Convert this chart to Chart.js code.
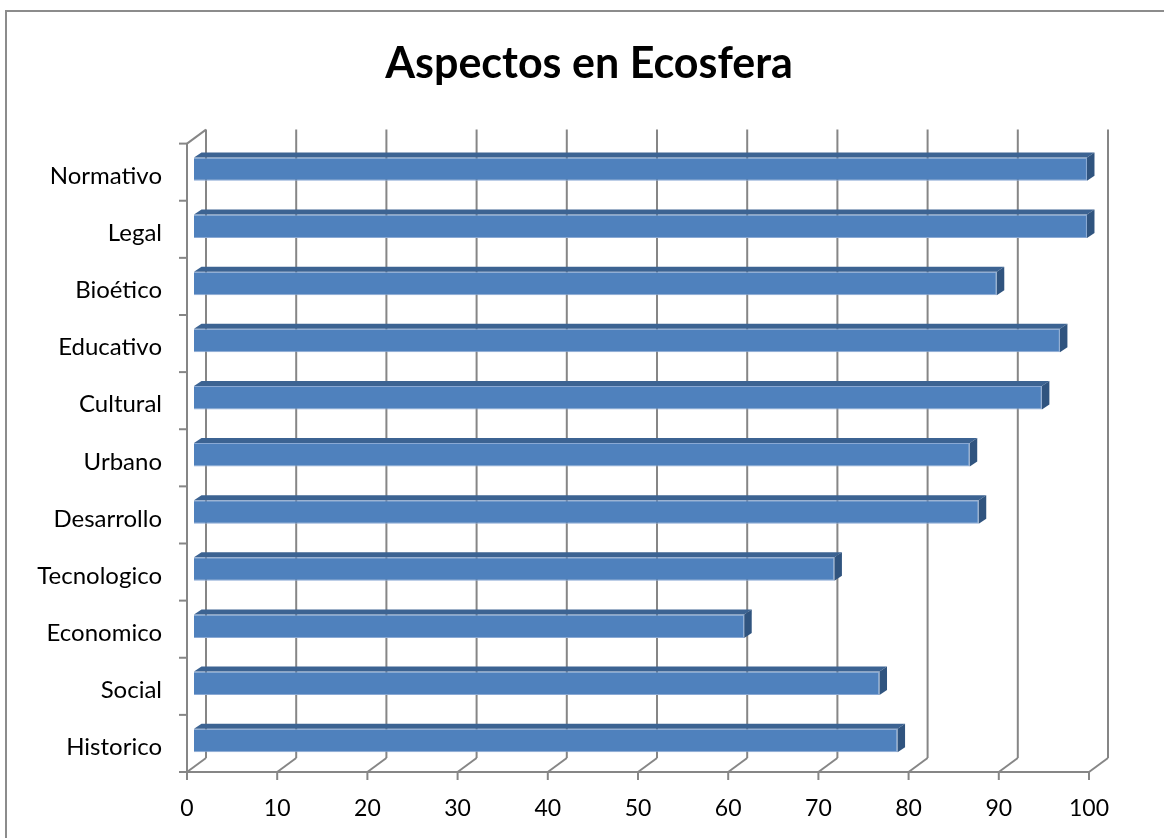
<!DOCTYPE html>
<html>
<head>
<meta charset="utf-8">
<script src="https://cdn.jsdelivr.net/npm/chart.js@4.4.0/dist/chart.umd.min.js"></script>
<style>
    html, body { margin: 0; padding: 0; background: #fff; overflow: hidden; }
    #frame {
        position: absolute; left: 5px; top: 10px; width: 2000px; height: 2000px;
        border-left: 2px solid #8c8c8c; border-top: 2px solid #8c8c8c;
    }
    #chart { position: absolute; left: 0; top: 0; }
</style>
</head>
<body>
<div id="frame"></div>
<canvas id="chart" width="1164" height="838"></canvas>
<script>
// Data (top to bottom)
const categories = ['Normativo', 'Legal', 'Bioético', 'Educativo', 'Cultural', 'Urbano',
    'Desarrollo', 'Tecnologico', 'Economico', 'Social', 'Historico'];
const values = [99, 99, 89, 96, 94, 86, 87, 71, 61, 76, 78];
const xTicks = [0, 10, 20, 30, 40, 50, 60, 70, 80, 90, 100];

const FONT = 'Lato, "Open Sans", sans-serif';
const GRID = '#868686';

// depth offsets relative to the plane the bars sit in
const front = { x: -7, y: 3 };
const back = { x: 12, y: -11 };
const barDepth = { x: 7.5, y: -5 };

function line(ctx, x1, y1, x2, y2) {
    ctx.beginPath();
    ctx.moveTo(x1, y1);
    ctx.lineTo(x2, y2);
    ctx.stroke();
}

// draws the 3D walls, floor and the extra bar faces
const box3d = {
    id: 'box3d',
    beforeDatasetsDraw(chart) {
        const { ctx, chartArea: a, scales } = chart;
        const xs = scales.x;
        ctx.save();
        ctx.strokeStyle = GRID;
        ctx.lineWidth = 2;
        ctx.lineCap = 'butt';

        xTicks.forEach(v => {
            const px = xs.getPixelForValue(v);
            // back wall grid line
            line(ctx, px + back.x, a.top + back.y, px + back.x, a.bottom + back.y);
            // floor diagonal
            line(ctx, px + front.x, a.bottom + front.y, px + back.x, a.bottom + back.y);
            // tick mark on the front edge
            line(ctx, px + front.x, a.bottom + front.y, px + front.x, a.bottom + front.y + 8);
        });

        const x0 = xs.getPixelForValue(0);
        const x100 = xs.getPixelForValue(100);
        // front floor edge
        line(ctx, x0 + front.x - 1, a.bottom + front.y, x100 + front.x, a.bottom + front.y);
        // left wall front edge and top
        line(ctx, x0 + front.x, a.top + front.y, x0 + front.x, a.bottom + front.y);
        line(ctx, x0 + front.x, a.top + front.y, x0 + back.x, a.top + back.y);

        // category tick marks on the left edge
        const step = (a.bottom - a.top) / categories.length;
        for (let i = 0; i <= categories.length; i++) {
            const py = a.top + i * step + front.y;
            line(ctx, x0 + front.x - 8, py, x0 + front.x, py);
        }
        ctx.restore();
    },
    afterDatasetsDraw(chart) {
        const { ctx } = chart;
        const meta = chart.getDatasetMeta(0);
        ctx.save();
        meta.data.forEach(bar => {
            const { x, y, base, height } = bar.getProps(['x', 'y', 'base', 'height'], true);
            const top = y - height / 2;
            const bottom = y + height / 2;
            // top face
            ctx.fillStyle = '#3c6392';
            ctx.beginPath();
            ctx.moveTo(base, top);
            ctx.lineTo(x, top);
            ctx.lineTo(x + barDepth.x, top + barDepth.y);
            ctx.lineTo(base + barDepth.x, top + barDepth.y);
            ctx.closePath();
            ctx.fill();
            // side face
            ctx.fillStyle = '#30547f';
            ctx.beginPath();
            ctx.moveTo(x, top);
            ctx.lineTo(x + barDepth.x, top + barDepth.y);
            ctx.lineTo(x + barDepth.x, bottom + barDepth.y);
            ctx.lineTo(x, bottom);
            ctx.closePath();
            ctx.fill();
        });
        ctx.restore();
    }
};

const ctx = document.getElementById('chart').getContext('2d');
const chart = new Chart(ctx, {
    type: 'bar',
    data: {
        labels: categories,
        datasets: [{
            data: values,
            backgroundColor: '#4f81bd',
            borderColor: '#8aa9d4',
            borderWidth: 1,
            barPercentage: 1,
            categoryPercentage: 0.41
        }]
    },
    options: {
        indexAxis: 'y',
        responsive: false,
        animation: false,
        layout: { padding: { left: 14, right: 0, top: 0, bottom: 0 } },
        plugins: {
            legend: { display: false },
            tooltip: { enabled: false },
            title: {
                display: true,
                text: 'Aspectos en Ecosfera',
                color: '#000',
                font: { family: FONT, size: 43, weight: 'bold' },
                padding: { top: 38, bottom: 51 }
            }
        },
        scales: {
            x: {
                min: 0,
                max: 100,
                grid: { display: false, drawTicks: false },
                border: { display: false },
                ticks: {
                    stepSize: 10,
                    color: '#000',
                    font: { family: FONT, size: 23 },
                    padding: 26,
                    labelOffset: -7,
                    maxRotation: 0
                },
                afterFit: scale => { scale.height = 69; }
            },
            y: {
                grid: { display: false, drawTicks: false },
                border: { display: false },
                ticks: {
                    color: '#000',
                    font: { family: FONT, size: 24 },
                    padding: 32,
                    labelOffset: 7
                },
                afterFit: scale => { scale.width = 180; }
            },
            // empty axis that only reserves the right margin
            yRight: {
                type: 'category',
                position: 'right',
                grid: { display: false, drawTicks: false },
                border: { display: false },
                ticks: { display: false },
                afterFit: scale => { scale.width = 68; }
            }
        }
    },
    plugins: [box3d]
});
</script>
</body>
</html>
